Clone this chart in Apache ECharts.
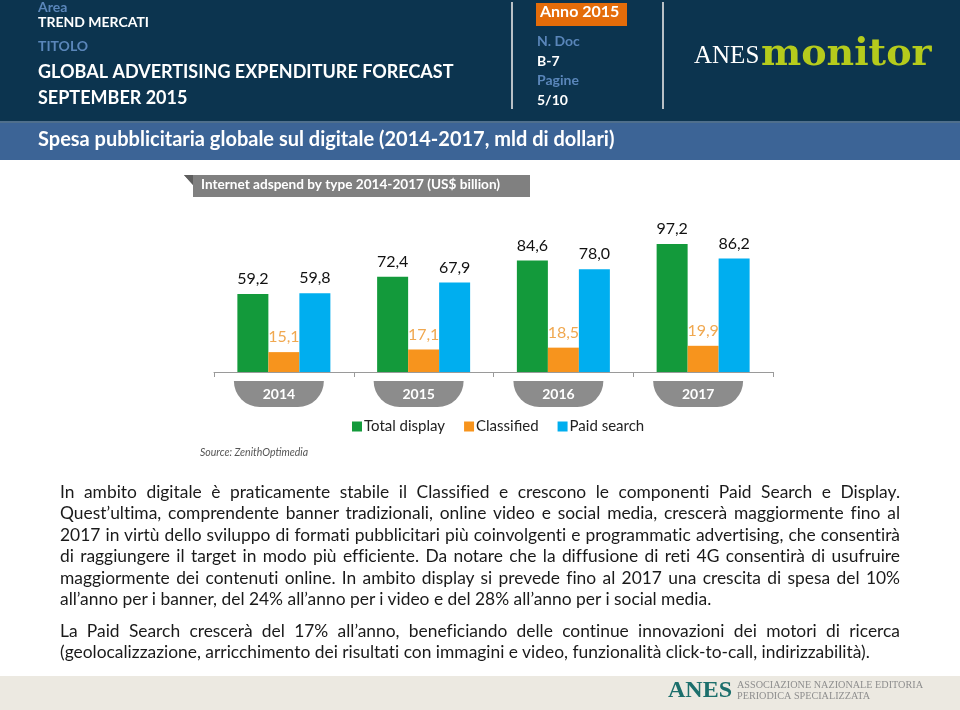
<!DOCTYPE html>
<html>
<head>
<meta charset="utf-8">
<script src="https://cdn.jsdelivr.net/npm/echarts@6/dist/echarts.min.js"></script>
<style>
  html, body { margin:0; padding:0; background:#ffffff; }
  #wrap { position:relative; width:960px; height:710px; overflow:hidden; }
  #chart { position:absolute; left:0; top:0; width:960px; height:710px; }
  #body { position:absolute; left:60px; top:481px; width:840px; font-family:Lato, 'Noto Sans', sans-serif;
          font-size:17.4px; line-height:21.4px; color:#1a1a1a; font-variant-ligatures:none; }
  #body div { white-space:nowrap; }
  #body .j { text-align:justify; text-align-last:justify; }
  #body .gap { height:10.6px; }
</style>
</head>
<body>
<div id="wrap">
  <div id="chart"></div>
  <div id="body">
    <div class="j">In ambito digitale è praticamente stabile il Classified e crescono le componenti Paid Search e Display.</div>
    <div class="j">Quest’ultima, comprendente banner tradizionali, online video e social media, crescerà maggiormente fino al</div>
    <div class="j">2017 in virtù dello sviluppo di formati pubblicitari più coinvolgenti e programmatic advertising, che consentirà</div>
    <div class="j">di raggiungere il target in modo più efficiente. Da notare che la diffusione di reti 4G consentirà di usufruire</div>
    <div class="j">maggiormente dei contenuti online. In ambito display si prevede fino al 2017 una crescita di spesa del 10%</div>
    <div>all’anno per i banner, del 24% all’anno per i video e del 28% all’anno per i social media.</div>
    <div class="gap"></div>
    <div class="j">La Paid Search crescerà del 17% all’anno, beneficiando delle continue innovazioni dei motori di ricerca</div>
    <div>(geolocalizzazione, arricchimento dei risultati con immagini e video, funzionalità click-to-call, indirizzabilità).</div>
  </div>
</div>
<script>
var years = ['2014', '2015', '2016', '2017'];
var seriesNames = ['Total display', 'Classified', 'Paid search'];
var totalDisplay = [59.2, 72.4, 84.6, 97.2];
var classified = [15.1, 17.1, 18.5, 19.9];
var paidSearch = [59.8, 67.9, 78.0, 86.2];

var FONT = 'Lato, "Noto Sans", sans-serif';
var SERIF = '"Liberation Serif", "DejaVu Serif", serif';
var chart = echarts.init(document.getElementById('chart'), null, { renderer: 'canvas' });

function fmt(p) { return p.value.toFixed(1).replace('.', ','); }

function mkSeries(name, data, color, labelColor) {
  return {
    name: name, type: 'bar', data: data, barWidth: 31, barGap: '0%',
    itemStyle: { color: color },
    label: { show: true, position: 'top', distance: 7, formatter: fmt,
             color: labelColor, fontSize: 16, fontFamily: FONT }
  };
}

var txt = function (x, y, s, size, color, weight, extra) {
  var o = { type: 'text', left: x, top: y, silent: true,
    style: { text: s, fill: color, fontSize: size, fontWeight: weight || 'normal', fontFamily: FONT } };
  if (extra) { for (var k in extra) o.style[k] = extra[k]; }
  return o;
};

var graphics = [
  { type: 'rect', shape: { x: 0, y: 0, width: 960, height: 121 }, style: { fill: '#0c344f' }, silent: true },
  { type: 'rect', shape: { x: 0, y: 121, width: 960, height: 2 }, style: { fill: '#4f6f8c' }, silent: true },
  { type: 'rect', shape: { x: 0, y: 123, width: 960, height: 37 }, style: { fill: '#3c6496' }, silent: true },
  txt(38, 0, 'Area', 14, '#5a86ba', 'bold'),
  txt(38, 15, 'TREND MERCATI', 14, '#ffffff', 'bold'),
  txt(38, 39, 'TITOLO', 14, '#5a86ba', 'bold'),
  txt(38, 63, 'GLOBAL ADVERTISING EXPENDITURE FORECAST', 18, '#ffffff', 'bold'),
  txt(38, 89, 'SEPTEMBER 2015', 18, '#ffffff', 'bold'),
  { type: 'line', shape: { x1: 512, y1: 2, x2: 512, y2: 109 }, style: { stroke: '#b9c0c6', lineWidth: 2 }, silent: true },
  { type: 'line', shape: { x1: 663, y1: 2, x2: 663, y2: 109 }, style: { stroke: '#b9c0c6', lineWidth: 2 }, silent: true },
  { type: 'rect', shape: { x: 536, y: 3, width: 91, height: 23 }, style: { fill: '#e46c0a' }, silent: true },
  txt(540, 4, 'Anno 2015', 16, '#ffffff', 'bold'),
  txt(537, 34, 'N. Doc', 14, '#5a86ba', 'bold'),
  txt(537, 54, 'B-7', 14, '#ffffff', 'bold'),
  txt(537, 73, 'Pagine', 14, '#5a86ba', 'bold'),
  txt(537, 93, '5/10', 14, '#ffffff', 'bold'),
  txt(694, 44, 'ANES', 25, '#ffffff', 'normal', { fontFamily: SERIF }),
  txt(761, 36, 'monitor', 38, '#b5cb1c', 'bold', { fontFamily: '"DejaVu Serif", serif' }),
  txt(38, 130, 'Spesa pubblicitaria globale sul digitale (2014-2017, mld di dollari)', 20, '#ffffff', 'bold'),
  { type: 'polygon', shape: { points: [[184, 175], [530, 175], [530, 197], [193, 197], [193, 185]] }, style: { fill: '#808080' }, silent: true },
  { type: 'polygon', shape: { points: [[184, 175], [193, 175], [193, 185]] }, style: { fill: '#5e5e5e' }, silent: true },
  txt(201, 178, 'Internet adspend by type 2014-2017 (US$ billion)', 13.6, '#ffffff', 'bold'),
  txt(200, 447, 'Source: ZenithOptimedia', 10.5, '#555555', 'normal', { fontStyle: 'italic' }),
  { type: 'rect', shape: { x: 0, y: 676, width: 960, height: 34 }, style: { fill: '#ece9e1' }, silent: true },
  txt(668, 679, 'ANES', 24, '#1c6f6c', 'bold', { fontFamily: SERIF }),
  txt(737, 680, 'ASSOCIAZIONE NAZIONALE EDITORIA', 10.2, '#8e8e8e', 'normal', { fontFamily: SERIF }),
  txt(737, 691, 'PERIODICA SPECIALIZZATA', 10.2, '#8e8e8e', 'normal', { fontFamily: SERIF })
];

chart.setOption({
  animation: false,
  backgroundColor: '#ffffff',
  textStyle: { fontFamily: FONT },
  graphic: graphics,
  legend: {
    data: seriesNames, left: 347, top: 414, icon: 'rect', itemWidth: 10, itemHeight: 10, itemGap: 19,
    textStyle: { fontSize: 15, color: '#222222', fontFamily: FONT, padding: [0, 0, 0, -3] }
  },
  grid: { left: 214, right: 187, top: 214, bottom: 338 },
  xAxis: {
    type: 'category', data: years,
    axisLine: { lineStyle: { color: '#9a9a9a', width: 1 } },
    axisTick: { show: true, length: 5, lineStyle: { color: '#9a9a9a' } },
    axisLabel: {
      margin: 9,
      formatter: function (v) { return '{a|' + v + '}{s|}'; },
      rich: {
        a: { backgroundColor: '#8c8c8c', color: '#ffffff', fontWeight: 'bold', fontSize: 14, fontFamily: FONT,
             width: 90, height: 26, lineHeight: 26, align: 'center', borderRadius: [0, 0, 26, 26] },
        s: { width: 10, height: 26 }
      }
    }
  },
  yAxis: { type: 'value', min: 0, max: 120, show: false, splitLine: { show: false } },
  series: [
    mkSeries(seriesNames[0], totalDisplay, '#139a3b', '#111111'),
    mkSeries(seriesNames[1], classified, '#f7941d', '#f0a850'),
    mkSeries(seriesNames[2], paidSearch, '#00aeef', '#111111')
  ]
});
</script>
</body>
</html>
